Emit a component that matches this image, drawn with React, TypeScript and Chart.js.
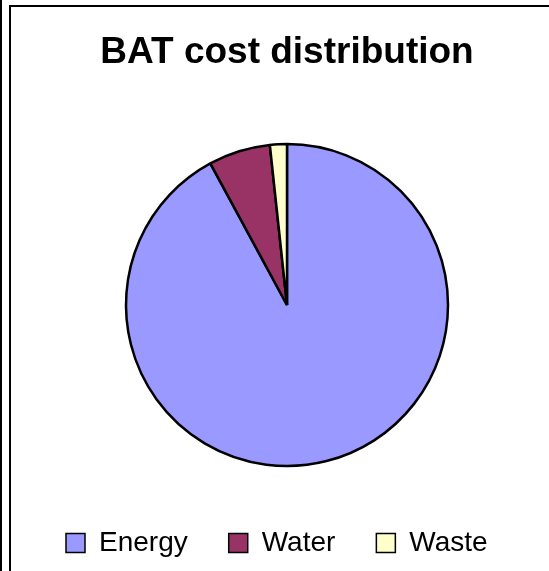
import React, { useEffect, useRef } from "react";
import { Chart, registerables } from "chart.js";

Chart.register(...registerables);

const categories = ["Energy", "Water", "Waste"];
const values = [92.1, 6.2, 1.7];
const colors = ["#9999FF", "#993366", "#FFFFCC"];
const chartTitle = "BAT cost distribution";

const FONT = "'Liberation Sans', Arial, Helvetica, sans-serif";

export default function App() {
  const ref = useRef<HTMLCanvasElement>(null);

  useEffect(() => {
    if (!ref.current) return;
    const baseGen = (Chart as any).overrides.pie.plugins.legend.labels.generateLabels;
    const chart = new Chart(ref.current, {
      type: "pie",
      data: {
        labels: categories,
        datasets: [
          {
            data: values,
            backgroundColor: colors,
            borderColor: "#000000",
            borderWidth: 2.5,
            radius: 161,
          } as any,
        ],
      },
      options: {
        animation: false,
        responsive: false,
        maintainAspectRatio: false,
        layout: { padding: { left: 14, right: 0, top: 0, bottom: 0 } },
        plugins: {
          tooltip: { enabled: false },
          title: {
            display: true,
            text: chartTitle,
            color: "#000000",
            font: { family: FONT, size: 37, weight: "bold", lineHeight: 1.2 },
            padding: { top: 24, bottom: 46.6 },
          },
          legend: {
            display: true,
            position: "bottom",
            align: "start",
            labels: {
              boxWidth: 19,
              boxHeight: 19,
              padding: 41,
              color: "#000000",
              font: { family: FONT, size: 28 },
              generateLabels: (c: any) =>
                baseGen(c).map((it: any) => ({ ...it, lineWidth: 1.5, strokeStyle: "#000000" })),
            },
          },
        },
      } as any,
    });
    return () => chart.destroy();
  }, []);

  return (
    <div
      style={{
        position: "fixed",
        left: 0,
        top: 0,
        width: 549,
        height: 571,
        overflow: "hidden",
        background: "#ffffff",
      }}
    >
      <div style={{ position: "absolute", left: 0, top: 0, width: 2, height: 571, background: "#000" }} />
      <div
        style={{
          position: "absolute",
          left: 9,
          top: 5,
          width: 600,
          height: 620,
          borderLeft: "2px solid #000",
          borderTop: "2px solid #000",
          boxSizing: "border-box",
        }}
      />
      <canvas
        ref={ref}
        width={538}
        height={560}
        style={{ position: "absolute", left: 11, top: 7, width: 538, height: 560 }}
      />
    </div>
  );
}
